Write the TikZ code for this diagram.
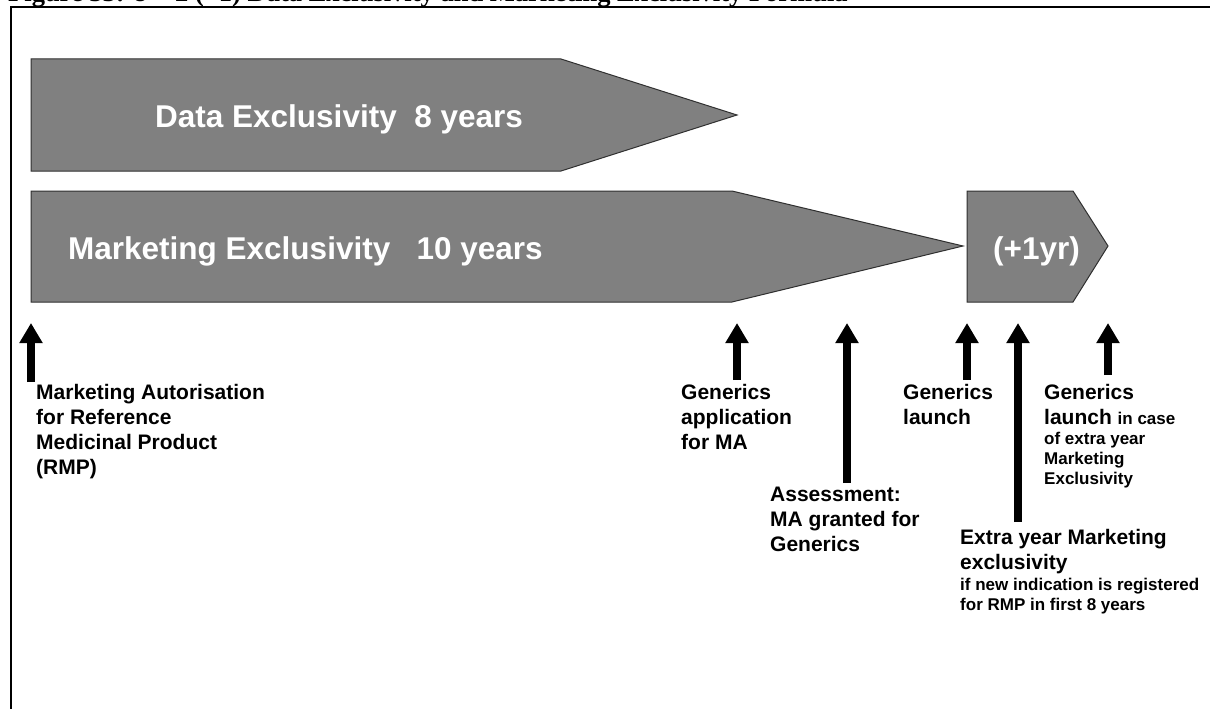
\documentclass[tikz,border=0pt]{standalone}
\usepackage{fontspec}
\setmainfont{Liberation Sans}
\newfontfamily\timesf{Liberation Serif}
\usetikzlibrary{arrows.meta}
\definecolor{boxgray}{HTML}{808080}
\definecolor{boxedge}{HTML}{303030}
\tikzset{
  band/.style={draw=boxedge, line width=1pt, fill=boxgray},
  bandtext/.style={text=white, font=\fontsize{31.5}{36}\selectfont\bfseries, inner sep=0pt, anchor=base west},
  lbl/.style={font=\fontsize{21}{25}\selectfont\bfseries, align=left, inner sep=0pt, anchor=north west},
  uparrow/.style={line width=8pt, -{Triangle[width=22pt,length=20pt]}}
}
\newcommand{\smallf}{\fontsize{17}{20}\selectfont\bfseries}
\begin{document}
\begin{tikzpicture}[x=1pt,y=-1pt]
\useasboundingbox (0,0) rectangle (1210,709);
\clip (0,0) rectangle (1210,709);
% title (cut off at top, as in the reference)
\node[anchor=base west, inner sep=0pt, font=\timesf\fontsize{26.5}{30}\selectfont\bfseries] (title) at (8,2) {Figure 33: 8 + 2 (+1) Data Exclusivity and Marketing Exclusivity Formula};
% frame
\draw[line width=2pt] (11,760) -- (11,7.5) -- (1260,7.5);
% bands
\draw[band] (31,59) -- (561,59) -- (737,115) -- (561,171) -- (31,171) -- cycle;
\draw[band] (31,191) -- (732,191) -- (963,246) -- (732,302) -- (31,302) -- cycle;
\draw[band] (967,191) -- (1073,191) -- (1108,246) -- (1073,302) -- (967,302) -- cycle;
\node[bandtext] (de) at (155,127) {Data Exclusivity\ \ 8 years};
\node[bandtext] (me) at (68,259) {Marketing Exclusivity\ \ \ 10 years};
\node[bandtext] (plus) at (993,259) {(+1yr)};
% labels
\node[lbl] (l1) at (36,384) {Marketing Autorisation\\for Reference\\Medicinal Product\\(RMP)};
\node[lbl] (l2) at (681,384) {Generics\\application\\for MA};
\node[lbl] (l3) at (770,487) {Assessment:\\MA granted for\\Generics};
\node[lbl] (l4) at (903,384) {Generics\\launch};
\node[lbl] (l5) at (960,529) {Extra year Marketing\\exclusivity\\[-4pt]{\smallf if new indication is registered}\\[-5pt]{\smallf for RMP in first 8 years}};
\node[lbl] (l6) at (1044,384) {Generics\\launch {\smallf in case}\\[-5pt]{\smallf of extra year}\\[-5pt]{\smallf Marketing}\\[-5pt]{\smallf Exclusivity}};
% arrows
\coordinate (t1) at (31,323);   \coordinate (b1) at (31,382);
\coordinate (t2) at (737,323);  \coordinate (b2) at (737,380);
\coordinate (t3) at (847,323);  \coordinate (b3) at (847,483);
\coordinate (t4) at (967,323);  \coordinate (b4) at (967,380);
\coordinate (t5) at (1018,323); \coordinate (b5) at (1018,522);
\coordinate (t6) at (1108,323); \coordinate (b6) at (1108,375);
\foreach \i in {1,...,6} { \draw[uparrow] (b\i) -- (t\i); }
\end{tikzpicture}
\end{document}
